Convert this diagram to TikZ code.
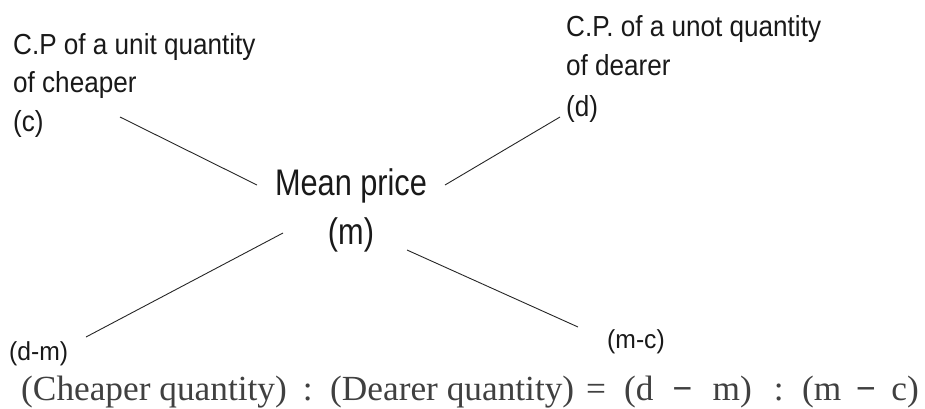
\documentclass[tikz,border=0pt]{standalone}
\usepackage{fontspec}
\newfontfamily\labfont[FakeStretch=0.9]{Liberation Sans}
\newfontfamily\meanfont[FakeStretch=0.83]{Liberation Sans}
\newfontfamily\smallfont[FakeStretch=0.95]{Liberation Sans}
\newfontfamily\eqfont{Liberation Serif}
\tikzset{
  lab/.style={inner sep=0pt, anchor=base west, font=\labfont\fontsize{29}{29}\selectfont, text=black!90},
  mean/.style={inner sep=0pt, anchor=base, font=\meanfont\fontsize{37}{37}\selectfont, text=black!90},
  diff/.style={inner sep=0pt, anchor=base west, font=\smallfont\fontsize{26}{26}\selectfont, text=black!90},
  eq/.style={inner sep=0pt, anchor=base west, font=\eqfont\fontsize{35.3}{35.3}\selectfont, text=black!75},
  conn/.style={line width=0.9pt, draw=black!85}
}
\newcommand{\eqminus}{{\bfseries\textminus}}
\begin{document}
\begin{tikzpicture}[x=1pt,y=-1pt]
\useasboundingbox (0,0) rectangle (925,408);
% upper left
\node[lab] (cl1) at (13,54) {C.P of a unit quantity};
\node[lab] (cl2) at (13,92.5) {of cheaper};
\node[lab] (c) at (13,131.5) {(c)};
% upper right
\node[lab] (dl1) at (566,36.5) {C.P. of a unot quantity};
\node[lab] (dl2) at (566,75) {of dearer};
\node[lab] (d) at (566,116) {(d)};
% centre
\node[mean] (mp) at (351,195) {Mean price};
\node[mean] (m) at (351,244) {(m)};
% differences
\node[diff] (dm) at (9,360) {(d-m)};
\node[diff] (mc) at (607,348) {(m-c)};
% equation
\node[eq] (eqn) at (21,400) {(Cheaper quantity)\hspace{16pt}:\hspace{17.5pt}(Dearer quantity)\hspace{12pt}=\hspace{18pt}(d\hspace{19pt}\eqminus\hspace{20pt}m)\hspace{22pt}:\hspace{18.5pt}(m\hspace{14.5pt}\eqminus\hspace{15.5pt}c)};
% connector end points
\coordinate (cA) at (120,117);
\coordinate (cB) at (257,185);
\coordinate (dA) at (560,117);
\coordinate (dB) at (445,185);
\coordinate (dmA) at (86,337);
\coordinate (dmB) at (283,233);
\coordinate (mcA) at (578,327);
\coordinate (mcB) at (407,250);
\draw[conn] (cA) -- (cB);
\draw[conn] (dA) -- (dB);
\draw[conn] (dmA) -- (dmB);
\draw[conn] (mcA) -- (mcB);
\end{tikzpicture}
\end{document}
